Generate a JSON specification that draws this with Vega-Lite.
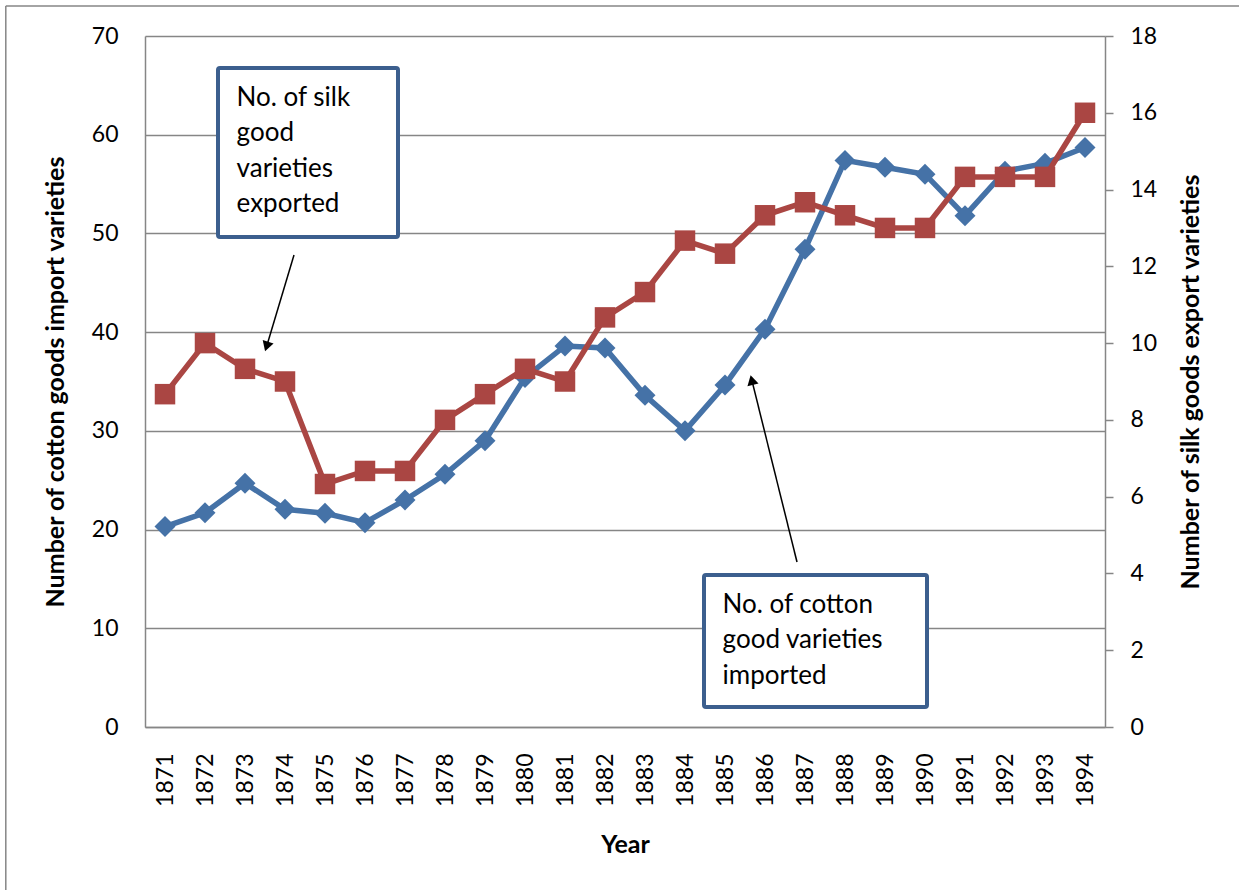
{
  "$schema": "https://vega.github.io/schema/vega-lite/v6.json",
  "width": 960,
  "height": 691,
  "autosize": {"type": "none"},
  "padding": {"left": 145, "top": 36, "right": 134, "bottom": 163},
  "background": "white",
  "config": {
    "font": "Lato",
    "view": {"stroke": null},
    "axis": {
      "labelFont": "Lato",
      "titleFont": "Lato",
      "labelColor": "#000000",
      "titleColor": "#000000",
      "domainColor": "#868686",
      "tickColor": "#868686",
      "gridColor": "#868686",
      "labelFontSize": 23,
      "titleFontSize": 25,
      "titleFontWeight": "bold",
      "domainWidth": 1.5,
      "gridWidth": 1.5,
      "tickWidth": 1.5
    }
  },
  "datasets": {
    "main": [
      {"year": 1871, "cotton": 20.3, "silk": 8.67},
      {"year": 1872, "cotton": 21.7, "silk": 10.0},
      {"year": 1873, "cotton": 24.7, "silk": 9.33},
      {"year": 1874, "cotton": 22.05, "silk": 9.0},
      {"year": 1875, "cotton": 21.65, "silk": 6.33},
      {"year": 1876, "cotton": 20.7, "silk": 6.67},
      {"year": 1877, "cotton": 23.0, "silk": 6.67},
      {"year": 1878, "cotton": 25.6, "silk": 8.0},
      {"year": 1879, "cotton": 29.0, "silk": 8.67},
      {"year": 1880, "cotton": 35.4, "silk": 9.33},
      {"year": 1881, "cotton": 38.6, "silk": 9.0},
      {"year": 1882, "cotton": 38.4, "silk": 10.67},
      {"year": 1883, "cotton": 33.6, "silk": 11.33},
      {"year": 1884, "cotton": 30.0, "silk": 12.67},
      {"year": 1885, "cotton": 34.65, "silk": 12.33},
      {"year": 1886, "cotton": 40.3, "silk": 13.33},
      {"year": 1887, "cotton": 48.4, "silk": 13.67},
      {"year": 1888, "cotton": 57.4, "silk": 13.33},
      {"year": 1889, "cotton": 56.7, "silk": 13.0},
      {"year": 1890, "cotton": 56.0, "silk": 13.0},
      {"year": 1891, "cotton": 51.8, "silk": 14.33},
      {"year": 1892, "cotton": 56.3, "silk": 14.33},
      {"year": 1893, "cotton": 57.1, "silk": 14.33},
      {"year": 1894, "cotton": 58.7, "silk": 16.0}
    ],
    "frame": [
      {"x": 1867.02, "x2": 1867.02, "y": 73.04, "y2": -16.6},
      {"x": 1867.02, "x2": 1898.5, "y": 73.04, "y2": 73.04}
    ],
    "boxes": [
      {"x": 1872.325, "x2": 1876.825, "y": 66.76, "y2": 49.64},
      {"x": 1884.475, "x2": 1890.05, "y": 15.4, "y2": 2.03}
    ],
    "labels": [
      {"x": 1872.79, "y": 62.91, "label": "No. of silk\ngood\nvarieties\nexported"},
      {"x": 1884.94, "y": 11.58, "label": "No. of cotton\ngood varieties\nimported"}
    ],
    "arrows": [
      {"x": 1874.225, "y": 47.82, "x2": 1873.54, "y2": 38.54},
      {"x": 1886.8, "y": 16.72, "x2": 1885.67, "y2": 35.15}
    ],
    "heads": [
      {"x": 1873.54, "y": 38.54, "shape": "triangle-down", "angle": 18},
      {"x": 1885.67, "y": 35.15, "shape": "triangle-up", "angle": -14}
    ]
  },
  "layer": [
    {
      "data": {"name": "main"},
      "encoding": {
        "x": {
          "field": "year",
          "type": "quantitative",
          "scale": {"domain": [1870.5, 1894.5], "nice": false, "zero": false},
          "axis": {
            "title": "Year",
            "values": [1871, 1872, 1873, 1874, 1875, 1876, 1877, 1878, 1879, 1880, 1881, 1882, 1883, 1884, 1885, 1886, 1887, 1888, 1889, 1890, 1891, 1892, 1893, 1894],
            "format": "d",
            "labelAngle": -90,
            "ticks": false,
            "grid": false,
            "labelPadding": 26,
            "titlePadding": 26,
            "labelFlush": false,
            "labelOverlap": false
          }
        },
        "y": {
          "field": "cotton",
          "type": "quantitative",
          "scale": {"domain": [0, 70], "nice": false},
          "axis": {
            "orient": "left",
            "title": "Number of cotton goods import varieties",
            "values": [0, 10, 20, 30, 40, 50, 60, 70],
            "grid": true,
            "ticks": false,
            "labelPadding": 27,
            "titlePadding": 23
          }
        }
      },
      "layer": [
        {
          "data": {"name": "frame"},
          "mark": {"type": "rule", "color": "#868686", "strokeWidth": 1.5},
          "encoding": {
            "x": {"field": "x", "type": "quantitative", "scale": {"domain": [1870.5, 1894.5], "nice": false, "zero": false}},
            "x2": {"field": "x2"},
            "y": {"field": "y", "type": "quantitative", "scale": {"domain": [0, 70], "nice": false}},
            "y2": {"field": "y2"}
          }
        },
        {"mark": {"type": "line", "color": "#4572A7", "strokeWidth": 5.5}},
        {"mark": {"type": "point", "shape": "diamond", "size": 440, "filled": true, "opacity": 1, "color": "#4572A7"}}
      ]
    },
    {
      "data": {"name": "main"},
      "encoding": {
        "x": {"field": "year", "type": "quantitative", "scale": {"domain": [1870.5, 1894.5], "nice": false, "zero": false}},
        "y": {
          "field": "silk",
          "type": "quantitative",
          "scale": {"domain": [0, 18], "nice": false},
          "axis": {
            "orient": "right",
            "title": "Number of silk goods export varieties",
            "titleAngle": -90,
            "values": [0, 2, 4, 6, 8, 10, 12, 14, 16, 18],
            "grid": false,
            "ticks": true,
            "tickSize": 8,
            "labelPadding": 17,
            "titlePadding": 47
          }
        }
      },
      "layer": [
        {"mark": {"type": "line", "color": "#AA4643", "strokeWidth": 5.5}},
        {"mark": {"type": "square", "size": 420, "filled": true, "opacity": 1, "color": "#AA4643"}}
      ]
    },
    {
      "layer": [
        {
          "data": {"name": "boxes"},
          "mark": {"type": "rect", "fill": "white", "stroke": "#3C5F8E", "strokeWidth": 4, "cornerRadius": 2},
          "encoding": {
            "x": {"field": "x", "type": "quantitative", "scale": {"domain": [1870.5, 1894.5], "nice": false, "zero": false}},
            "x2": {"field": "x2"},
            "y": {"field": "y", "type": "quantitative", "scale": {"domain": [0, 70], "nice": false}, "axis": null},
            "y2": {"field": "y2"}
          }
        },
        {
          "data": {"name": "labels"},
          "mark": {"type": "text", "align": "left", "baseline": "alphabetic", "fontSize": 26, "font": "Lato", "lineBreak": "\n", "lineHeight": 35.5, "color": "#000000"},
          "encoding": {
            "x": {"field": "x", "type": "quantitative", "scale": {"domain": [1870.5, 1894.5], "nice": false, "zero": false}},
            "y": {"field": "y", "type": "quantitative", "scale": {"domain": [0, 70], "nice": false}, "axis": null},
            "text": {"field": "label"}
          }
        },
        {
          "data": {"name": "arrows"},
          "mark": {"type": "rule", "color": "#000000", "strokeWidth": 1.5},
          "encoding": {
            "x": {"field": "x", "type": "quantitative", "scale": {"domain": [1870.5, 1894.5], "nice": false, "zero": false}},
            "x2": {"field": "x2"},
            "y": {"field": "y", "type": "quantitative", "scale": {"domain": [0, 70], "nice": false}, "axis": null},
            "y2": {"field": "y2"}
          }
        },
        {
          "data": {"name": "heads"},
          "mark": {"type": "point", "filled": true, "opacity": 1, "color": "#000000", "size": 130},
          "encoding": {
            "x": {"field": "x", "type": "quantitative", "scale": {"domain": [1870.5, 1894.5], "nice": false, "zero": false}},
            "y": {"field": "y", "type": "quantitative", "scale": {"domain": [0, 70], "nice": false}, "axis": null},
            "shape": {"field": "shape", "type": "nominal", "scale": null, "legend": null},
            "angle": {"field": "angle", "type": "quantitative", "scale": null}
          }
        }
      ]
    }
  ],
  "resolve": {"scale": {"y": "independent"}}
}
